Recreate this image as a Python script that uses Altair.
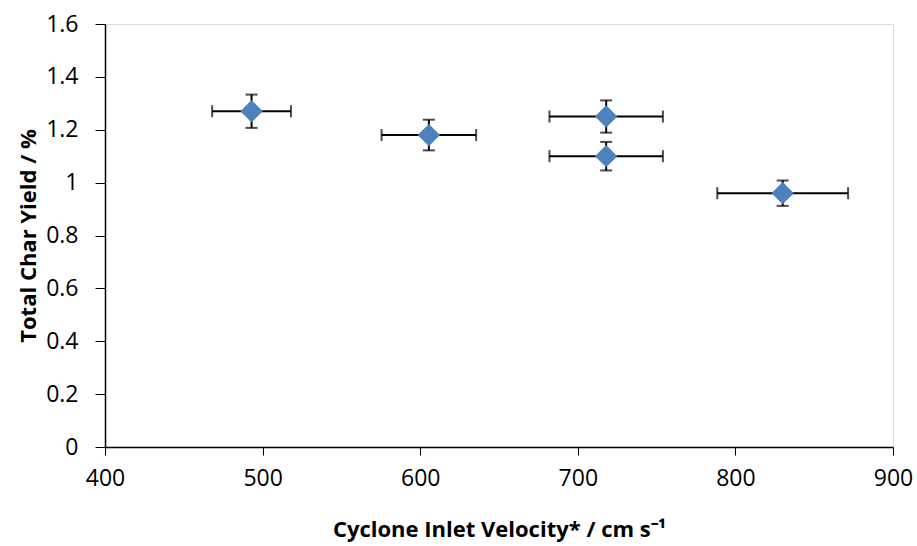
import altair as alt
import pandas as pd

velocity = [493, 605.5, 718, 718, 830]
char_yield = [1.27, 1.18, 1.25, 1.10, 0.96]
vel_err = [25, 30, 36, 36, 41.5]
yield_err = [0.063, 0.058, 0.061, 0.054, 0.048]

df = pd.DataFrame({
    "v": velocity,
    "y": char_yield,
    "v_lo": [v - e for v, e in zip(velocity, vel_err)],
    "v_hi": [v + e for v, e in zip(velocity, vel_err)],
    "y_lo": [y - e for y, e in zip(char_yield, yield_err)],
    "y_hi": [y + e for y, e in zip(char_yield, yield_err)],
})

FONT = "Open Sans"
xscale = alt.Scale(domain=[400, 900], nice=False, zero=False)
yscale = alt.Scale(domain=[0, 1.6], nice=False)

xax = alt.Axis(values=[400, 500, 600, 700, 800, 900], tickSize=8,
               title="Cyclone Inlet Velocity* / cm s\u207b\u00b9", titlePadding=29, labelPadding=12)
yax = alt.Axis(values=[0, 0.2, 0.4, 0.6, 0.8, 1.0, 1.2, 1.4, 1.6], tickSize=10,
               labelExpr="datum.value == 1 ? '1' : datum.value == 0 ? '0' : format(datum.value, '.1f')",
               title="Total Char Yield / %", titlePadding=5, labelPadding=17)

base = alt.Chart(df)

xerr = base.mark_rule(color="black", strokeWidth=2).encode(
    x=alt.X("v_lo:Q", scale=xscale, axis=xax), x2="v_hi:Q", y=alt.Y("y:Q", scale=yscale, axis=yax))
xcap_l = base.mark_tick(color="black", thickness=2, size=12, orient="vertical").encode(
    x=alt.X("v_lo:Q", scale=xscale, axis=xax), y=alt.Y("y:Q", scale=yscale, axis=yax))
xcap_r = base.mark_tick(color="black", thickness=2, size=12, orient="vertical").encode(
    x=alt.X("v_hi:Q", scale=xscale, axis=xax), y=alt.Y("y:Q", scale=yscale, axis=yax))
yerr = base.mark_rule(color="black", strokeWidth=2).encode(
    x=alt.X("v:Q", scale=xscale, axis=xax), y=alt.Y("y_lo:Q", scale=yscale, axis=yax), y2="y_hi:Q")
ycap_l = base.mark_tick(color="black", thickness=2, size=12, orient="horizontal").encode(
    x=alt.X("v:Q", scale=xscale, axis=xax), y=alt.Y("y_lo:Q", scale=yscale, axis=yax))
ycap_h = base.mark_tick(color="black", thickness=2, size=12, orient="horizontal").encode(
    x=alt.X("v:Q", scale=xscale, axis=xax), y=alt.Y("y_hi:Q", scale=yscale, axis=yax))
pts = base.mark_point(shape="diamond", filled=True, size=380, color="#4F81BD", opacity=1,
                      stroke="#4F81BD").encode(
    x=alt.X("v:Q", scale=xscale, axis=xax), y=alt.Y("y:Q", scale=yscale, axis=yax))

chart = alt.layer(xerr, xcap_l, xcap_r, yerr, ycap_l, ycap_h, pts).properties(
    width=788, height=423,
    autosize=alt.AutoSizeParams(type="none"),
    padding={"left": 105, "top": 24, "right": 24, "bottom": 99},
).configure_view(stroke="black", strokeWidth=1.5).configure(background="white").configure_axis(
    grid=False, domainColor="black", domainWidth=1.5, tickColor="black", tickWidth=1,
    labelFontSize=23, labelFont=FONT, labelColor="black", labelFlush=False, labelOverlap=False,
    titleFont=FONT, titleFontSize=22, titleFontWeight="bold", titleColor="black",
)

chart.save("out.html", embed_options={"renderer": "svg", "actions": False})
